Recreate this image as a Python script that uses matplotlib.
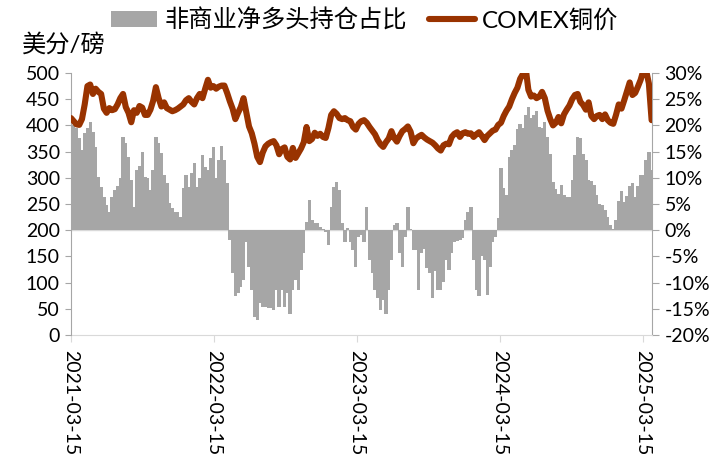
import numpy as np
import pandas as pd
import matplotlib
matplotlib.use('Agg')
import matplotlib.pyplot as plt
import matplotlib.dates as mdates
from matplotlib.patches import Patch
from matplotlib.lines import Line2D
from matplotlib.ticker import FuncFormatter

plt.rcParams['font.family'] = ['Lato', 'Noto Sans CJK SC']
plt.rcParams['axes.unicode_minus'] = False

# weekly data, first week 2021-03-15
start_date = '2021-03-15'

# 非商业净多头持仓占比 (%)
net_long_pct = [
    20.0, 20.0, 19.5, 17.6, 15.3, 18.5, 19.5, 20.6, 18.7, 15.9,
    10.1, 8.2, 6.3, 4.8, 3.4, 6.3, 7.6, 8.4, 10.0, 17.8,
    16.6, 14.0, 9.5, 4.4, 11.5, 12.2, 14.9, 10.1, 9.9, 7.6,
    11.5, 17.8, 16.6, 14.7, 10.5, 9.0, 5.2, 4.2, 3.4, 3.4,
    2.5, 8.0, 10.5, 8.2, 10.9, 12.8, 8.2, 10.0, 14.3, 12.0,
    11.5, 13.7, 15.9, 10.0, 13.4, 16.0, 13.4, 9.0, -1.9, -8.2,
    -12.6, -12.0, -10.9, -9.5, -2.3, -7.1, -11.5, -16.6, -17.2, -13.9,
    -14.7, -14.7, -14.9, -14.9, -15.3, -11.5, -14.7, -11.5, -14.7, -12.0,
    -15.9, -11.5, -9.5, -11.5, -7.6, -4.4, 1.5, 5.7, 1.9, 1.3,
    1.3, 0.6, 0.2, -0.3, -2.9, 4.4, 8.2, 9.2, 7.6, 1.3,
    -2.3, 0.5, -2.3, -3.8, -7.1, -1.3, -1.0, -2.3, 4.4, -5.7,
    -8.2, -11.5, -13.0, -15.3, -13.3, -15.9, -11.5, -5.7, 1.0, 1.3,
    -4.4, -7.1, -1.3, 4.4, 0.3, -3.8, -3.8, -11.5, -4.4, -3.6,
    -7.3, -8.2, -13.0, -7.7, -11.5, -11.5, -9.8, -5.7, -7.6, -4.4,
    -2.3, -2.0, -1.9, -1.5, 1.9, 3.4, 4.4, -5.7, -11.5, -12.6,
    -5.0, -5.7, -12.4, -7.1, -2.3, -1.3, 2.3, 11.8, 8.0, 6.7,
    14.0, 15.3, 16.2, 19.3, 20.3, 19.5, 22.0, 23.5, 21.4, 22.0,
    22.8, 19.7, 19.5, 20.6, 17.8, 14.5, 9.2, 7.8, 6.9, 8.6,
    6.7, 6.3, 6.3, 9.5, 14.4, 17.7, 17.6, 14.6, 13.4, 9.5,
    9.3, 8.6, 6.8, 5.0, 4.8, 3.8, 2.5, 1.0, 0.3, 1.9,
    5.6, 7.5, 5.3, 6.6, 8.4, 9.0, 6.3, 8.4, 10.5, 10.5,
    13.4, 15.0, 11.5,
]

# COMEX铜价 (美分/磅)
copper_price = [
    414, 408, 402, 401, 412, 440, 475, 478, 460, 470,
    464, 460, 432, 424, 433, 429, 431, 440, 452, 460,
    435, 424, 406, 429, 424, 437, 434, 420, 420, 430,
    447, 473, 452, 436, 444, 433, 430, 427, 429, 432,
    436, 440, 448, 452, 445, 440, 452, 460, 452, 470,
    487, 472, 475, 470, 474, 476, 476, 462, 446, 432,
    412, 424, 435, 452, 425, 398, 385, 365, 340, 330,
    348, 360, 365, 368, 370, 362, 345, 355, 358, 340,
    335, 357, 338, 347, 356, 368, 397, 370, 374, 386,
    380, 384, 378, 376, 395, 420, 427, 422, 414, 412,
    414, 410, 408, 397, 392, 403, 408, 410, 405, 397,
    390, 383, 372, 364, 359, 368, 375, 389, 376, 369,
    380, 389, 393, 398, 388, 366, 375, 379, 382, 377,
    373, 370, 367, 362, 356, 352, 362, 365, 364, 378,
    384, 387, 378, 385, 387, 384, 385, 378, 383, 387,
    380, 372, 380, 385, 390, 392, 401, 405, 418, 428,
    436, 450, 462, 472, 489, 498, 510, 468, 455, 457,
    452, 455, 464, 452, 428, 412, 400, 405, 416, 404,
    421, 430, 438, 450, 458, 460, 445, 439, 430, 444,
    418, 412, 418, 420, 412, 421, 410, 405, 403, 420,
    440, 432, 448, 465, 482, 458, 462, 474, 487, 505,
    505, 480, 410,
]

tick_dates = ['2021-03-15', '2022-03-15', '2023-03-15', '2024-03-15', '2025-03-15']

dates = pd.date_range(start_date, periods=len(net_long_pct), freq='7D')
x = mdates.date2num(dates.to_pydatetime())   # float days
x_ticks = mdates.date2num(pd.to_datetime(tick_dates).to_pydatetime())

bar_color = '#a6a6a6'
line_color = '#993300'

fig = plt.figure(figsize=(7.26, 4.67), dpi=100)
ax = fig.add_axes([71 / 726, 1 - 335 / 467, (652 - 71) / 726, (335 - 73) / 467])

# bars: net long share, right axis (overlapping, no antialiasing -> no seams)
ax.bar(x, net_long_pct, width=8.5, color=bar_color, linewidth=0,
       antialiased=False, align='center', zorder=2)
ax.axhline(0, color='#d9d9d9', lw=1, zorder=1)
ax.set_ylim(-20, 30)
ax.set_yticks(np.arange(-20, 31, 5))
ax.yaxis.set_major_formatter(FuncFormatter(lambda v, p: '{:.0f}%'.format(v)))
ax.set_xlim(x[0], x[0] + 1485)
ax.set_xticks(x_ticks)
ax.set_xticklabels(tick_dates, rotation=-90, va='top', ha='center')

# line: copper price, left axis
ax2 = ax.twinx()
ax2.plot(x, copper_price, color=line_color, lw=4.4,
         solid_joinstyle='round', solid_capstyle='round', zorder=3)
ax2.set_ylim(0, 500)
ax2.set_yticks(range(0, 501, 50))

ax.yaxis.tick_right()
ax2.yaxis.tick_left()

ax.spines['top'].set_visible(False)
ax.spines['left'].set_visible(False)
ax.spines['right'].set_color('#a6a6a6')
ax.spines['bottom'].set_color('#d9d9d9')
for s in ['top', 'right', 'bottom']:
    ax2.spines[s].set_visible(False)
ax2.spines['left'].set_color('#a6a6a6')

ax.tick_params(axis='y', labelsize=14, length=5, color='#a6a6a6', pad=4)
ax.tick_params(axis='x', labelsize=14, length=5, color='#d9d9d9', pad=6)
ax2.tick_params(axis='y', labelsize=14, length=4, color='#a6a6a6', pad=4)

fig.text(22 / 726, 1 - 44 / 467, '美分/磅', fontsize=17.5, ha='left', va='center')

handles = [Patch(facecolor=bar_color),
           Line2D([], [], color=line_color, lw=4.4, solid_capstyle='round')]
fig.legend(handles, ['非商业净多头持仓占比', 'COMEX铜价'], loc='center',
           bbox_to_anchor=(0.502, 0.957), ncol=2, frameon=False, fontsize=17.5,
           handlelength=1.9, handleheight=0.6, handletextpad=0.3,
           columnspacing=0.9)

fig.savefig('out.png', dpi=100)
